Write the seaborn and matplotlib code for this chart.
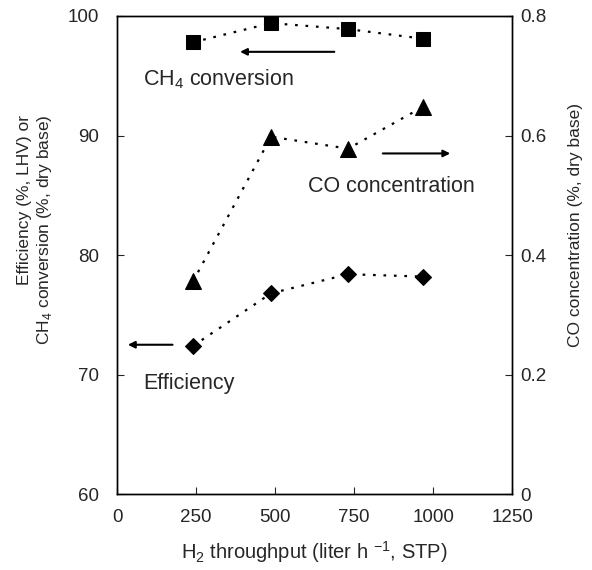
import numpy as np
import pandas as pd
import matplotlib
matplotlib.use("Agg")
import matplotlib.pyplot as plt
import seaborn as sns

h2_flow = [240, 487, 731, 968]
ch4_conversion = [97.8, 99.4, 98.9, 98.1]
co_concentration = [0.356, 0.598, 0.578, 0.648]
efficiency = [72.4, 76.8, 78.4, 78.2]

df = pd.DataFrame({"flow": h2_flow, "ch4": ch4_conversion,
                   "co": co_concentration, "eff": efficiency})

sns.set_style("ticks")
plt.rcParams["font.family"] = ["Liberation Sans", "DejaVu Sans"]
plt.rcParams["mathtext.fontset"] = "custom"
plt.rcParams["mathtext.rm"] = "Liberation Sans"

fig = plt.figure(figsize=(5.92, 5.7), dpi=100)
ax = fig.add_axes([0.198, 0.133, 0.667, 0.839])
ax2 = ax.twinx()

dots = (0, (1.2, 3.5))
sns.lineplot(data=df, x="flow", y="ch4", ax=ax, color="black", marker="s",
             markersize=10.5, linestyle=dots, linewidth=1.6, markeredgecolor="black")
sns.lineplot(data=df, x="flow", y="eff", ax=ax, color="black", marker="D",
             markersize=8.5, linestyle=dots, linewidth=1.6, markeredgecolor="black")
sns.lineplot(data=df, x="flow", y="co", ax=ax2, color="black", marker="^",
             markersize=11, linestyle=dots, linewidth=1.6, markeredgecolor="black")

ax.set_xlim(0, 1250)
ax.set_ylim(60, 100)
ax2.set_ylim(0, 0.8)
ax.set_xticks([0, 250, 500, 750, 1000, 1250])
ax.set_yticks([60, 70, 80, 90, 100])
ax2.set_yticks([0, 0.2, 0.4, 0.6, 0.8])
ax2.set_yticklabels(["0", "0.2", "0.4", "0.6", "0.8"])

for a in (ax, ax2):
    a.tick_params(direction="in", length=5, width=0.8, labelsize=13.5)
    for s in a.spines.values():
        s.set_linewidth(1.0)
        s.set_color("black")
ax.tick_params(axis="y", pad=13)
ax.tick_params(axis="x", pad=11)
ax2.tick_params(axis="y", pad=6)

ax.set_xlabel("H$_2$ throughput (liter h $^{-1}$, STP)", fontsize=14.5, labelpad=9)
ax.set_ylabel("Efficiency (%, LHV) or\nCH$_4$ conversion (%, dry base)",
              fontsize=12.5, multialignment="right", linespacing=1.25)
ax2.set_ylabel("CO concentration (%, dry base)", fontsize=12.5)
ax.yaxis.label.set_va("center")
ax2.yaxis.label.set_va("center")
ax.yaxis.set_label_coords(-0.207, 0.552)
ax2.yaxis.set_label_coords(1.16, 0.563)

arrow = dict(arrowstyle="-|>", color="black", lw=1.5, mutation_scale=10)
ax.annotate("", xy=(380, 97.0), xytext=(696, 97.0), arrowprops=arrow)
ax.annotate("", xy=(1063, 88.5), xytext=(832, 88.5), arrowprops=arrow)
ax.annotate("", xy=(25, 72.5), xytext=(184, 72.5), arrowprops=arrow)

ax.text(82, 94.7, "CH$_4$ conversion", fontsize=15.5, va="center")
ax.text(604, 85.7, "CO concentration", fontsize=15.5, va="center")
ax.text(82, 69.3, "Efficiency", fontsize=15.5, va="center")

fig.savefig("out.png", dpi=100)
